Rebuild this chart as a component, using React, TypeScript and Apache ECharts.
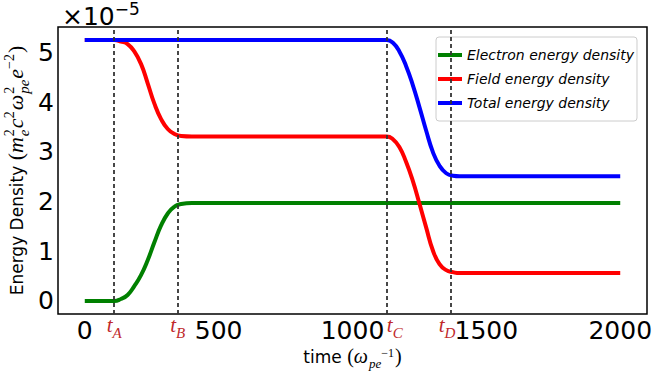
import React, { useEffect, useRef } from 'react';
import * as echarts from 'echarts';

// ---- data (values in units of 1e-5) ----
const electronT = [0, 110, 135, 160, 185, 210, 235, 260, 285, 310, 335, 360, 400, 2000];
const electronV = [0, 0, 0.04, 0.12, 0.3, 0.52, 0.82, 1.18, 1.52, 1.76, 1.9, 1.95, 1.97, 1.97];

const fieldT = [0, 110, 135, 160, 185, 210, 235, 260, 285, 310, 335, 360, 400, 1128, 1150, 1175, 1200, 1225, 1250, 1275, 1300, 1325, 1350, 1375, 1400, 2000];
const fieldV = [5.25, 5.25, 5.22, 5.17, 5.02, 4.77, 4.38, 3.97, 3.66, 3.46, 3.36, 3.32, 3.31, 3.31, 3.26, 3.1, 2.8, 2.42, 1.96, 1.48, 1.02, 0.74, 0.62, 0.58, 0.56, 0.56];

const totalT = [0, 1128, 1150, 1175, 1200, 1225, 1250, 1275, 1300, 1325, 1350, 1375, 1400, 2000];
const totalV = [5.25, 5.25, 5.2, 5.02, 4.73, 4.35, 3.9, 3.43, 3.0, 2.72, 2.57, 2.52, 2.51, 2.51];

const seriesNames = ['Electron energy density', 'Field energy density', 'Total energy density'];
const seriesColors = ['#008000', '#ff0000', '#0000ff'];

const tMarks = [110, 347, 1128, 1368];
const tNames = ['A', 'B', 'C', 'D'];

const xTicks = [0, 500, 1000, 1500, 2000];
const yTicks = [0, 1, 2, 3, 4, 5];

const SANS = 'DejaVu Sans';
const SERIF = 'Liberation Serif';

type Piece = { t: string; size: number; fam: string; ital?: boolean; up?: number; stack?: boolean; gap?: number };

function layout(pieces: Piece[], color: string) {
  const ctx = document.createElement('canvas').getContext('2d')!;
  let x = 0;
  let lastStart = 0;
  let lastEnd = 0;
  const children: any[] = [];
  for (const p of pieces) {
    ctx.font = `${p.ital ? 'italic ' : ''}${p.size}px "${p.fam}"`;
    const w = ctx.measureText(p.t).width;
    let px: number;
    if (p.stack) {
      px = lastStart;
      lastEnd = Math.max(lastEnd, px + w);
      x = lastEnd + (p.gap ?? 0);
    } else {
      px = x;
      lastStart = px;
      lastEnd = px + w;
      x = lastEnd + (p.gap ?? 0);
    }
    children.push({
      type: 'text',
      x: px,
      y: -(p.up ?? 0) - 0.34 * p.size,
      silent: true,
      style: {
        text: p.t,
        fontSize: p.size,
        fontFamily: p.fam,
        fontStyle: p.ital ? 'italic' : 'normal',
        fill: color,
        align: 'left',
        verticalAlign: 'middle',
      },
    });
  }
  return { children, width: x };
}

export default function App() {
  const ref = useRef<HTMLDivElement>(null);
  useEffect(() => {
    if (!ref.current) return;
    const chart = echarts.init(ref.current, null, { renderer: 'svg' });
    const pairs = (t: number[], v: number[]) => t.map((x, i) => [x, v[i]]);
    const data = [pairs(electronT, electronV), pairs(fieldT, fieldV), pairs(totalT, totalV)];
    const labelStyle = { fontSize: 25, lineHeight: 20, fontFamily: SANS, color: '#000' };
    chart.setOption({
      animation: false,
      grid: { left: 58, right: 12, top: 27, bottom: 57, show: true, borderColor: '#000', borderWidth: 1.5 },
      xAxis: {
        type: 'value', min: -100, max: 2100,
        splitLine: { show: false }, axisLine: { show: false }, axisTick: { show: false },
        axisLabel: { ...labelStyle, customValues: xTicks, margin: 6.5, formatter: (v: number) => String(v) },
      },
      yAxis: {
        type: 'value', min: -0.2625, max: 5.5125,
        splitLine: { show: false }, axisLine: { show: false }, axisTick: { show: false },
        axisLabel: { ...labelStyle, customValues: yTicks, margin: 4, formatter: (v: number) => String(v) },
      },
      legend: {
        orient: 'vertical', left: 436, top: 37, padding: [10, 3, 10, 2], itemGap: 8,
        itemWidth: 24, itemHeight: 4, icon: 'rect',
        backgroundColor: '#fff', borderColor: '#cccccc', borderWidth: 1, borderRadius: 3,
        textStyle: { fontSize: 14, fontFamily: SANS, fontStyle: 'italic', color: '#000', lineHeight: 16 },
        data: seriesNames,
      },
      series: [
        {
          type: 'line', name: '_marks', data: [[0, 0]], symbol: 'none', lineStyle: { opacity: 0 }, z: 1,
          markLine: {
            silent: true, symbol: ['none', 'none'], label: { show: false },
            lineStyle: { color: '#333', width: 2, type: [4, 3], opacity: 0.9 },
            data: tMarks.map((v) => ({ xAxis: v })),
          },
        },
        ...seriesNames.map((name, i) => ({
          type: 'line', name, data: data[i], showSymbol: false, symbol: 'none',
          smooth: 0.5,
          lineStyle: { width: 4, color: seriesColors[i] }, itemStyle: { color: seriesColors[i] }, z: 2 + i,
        })),
      ],
    });

    const p0 = chart.convertToPixel({ gridIndex: 0 }, [-100, -0.2625]);
    const p1 = chart.convertToPixel({ gridIndex: 0 }, [2100, 5.5125]);
    const bottomY = p0[1];
    const midX = (p0[0] + p1[0]) / 2;
    const midY = (p0[1] + p1[1]) / 2;
    const graphics: any[] = [];
    const labelShift = [0, 0, 8, -4];
    tMarks.forEach((v, i) => {
      const lx = chart.convertToPixel({ gridIndex: 0 }, [v, 0])[0];
      const L = layout([
        { t: 't', size: 21, fam: SERIF, ital: true },
        { t: tNames[i], size: 15, fam: SERIF, ital: true, up: -6 },
      ], '#c0282a');
      graphics.push({ type: 'group', x: lx - L.width / 2 + labelShift[i], y: bottomY + 18, children: L.children });
    });

    const xt = layout([
      { t: 'time ', size: 17, fam: SANS },
      { t: '(', size: 20, fam: SERIF },
      { t: 'ω', size: 20, fam: SERIF, ital: true, gap: 1 },
      { t: 'pe', size: 13, fam: SERIF, ital: true, up: -5 },
      { t: '−1', size: 12, fam: SERIF, up: 6, gap: 1 },
      { t: ')', size: 20, fam: SERIF },
    ], '#000');
    graphics.push({ type: 'group', x: midX - xt.width / 2, y: 363, children: xt.children });

    const yt = layout([
      { t: 'Energy Density ', size: 17, fam: SANS },
      { t: '(', size: 22, fam: SERIF },
      { t: 'm', size: 22, fam: SERIF, ital: true, gap: 1 },
      { t: 'e', size: 15, fam: SERIF, ital: true, up: -6 },
      { t: '2', size: 14, fam: SERIF, up: 9, stack: true, gap: 1 },
      { t: 'c', size: 22, fam: SERIF, ital: true },
      { t: '2', size: 14, fam: SERIF, up: 9, gap: 1 },
      { t: 'ω', size: 22, fam: SERIF, ital: true, gap: 1 },
      { t: 'pe', size: 15, fam: SERIF, ital: true, up: -6 },
      { t: '2', size: 14, fam: SERIF, up: 9, stack: true, gap: 1 },
      { t: 'e', size: 22, fam: SERIF, ital: true },
      { t: '−2', size: 14, fam: SERIF, up: 9, gap: 1 },
      { t: ')', size: 22, fam: SERIF },
    ], '#000');
    graphics.push({ type: 'group', x: 23, y: midY + yt.width / 2, rotation: Math.PI / 2, children: yt.children });

    const ex = layout([
      { t: '×10', size: 25, fam: SANS },
      { t: '−5', size: 17, fam: SANS, up: 10 },
    ], '#000');
    graphics.push({ type: 'group', x: 62, y: 25, children: ex.children });

    chart.setOption({ graphic: graphics });
    return () => chart.dispose();
  }, []);
  return <div ref={ref} style={{ position: 'absolute', left: 0, top: 0, width: 659, height: 371 }} />;
}
